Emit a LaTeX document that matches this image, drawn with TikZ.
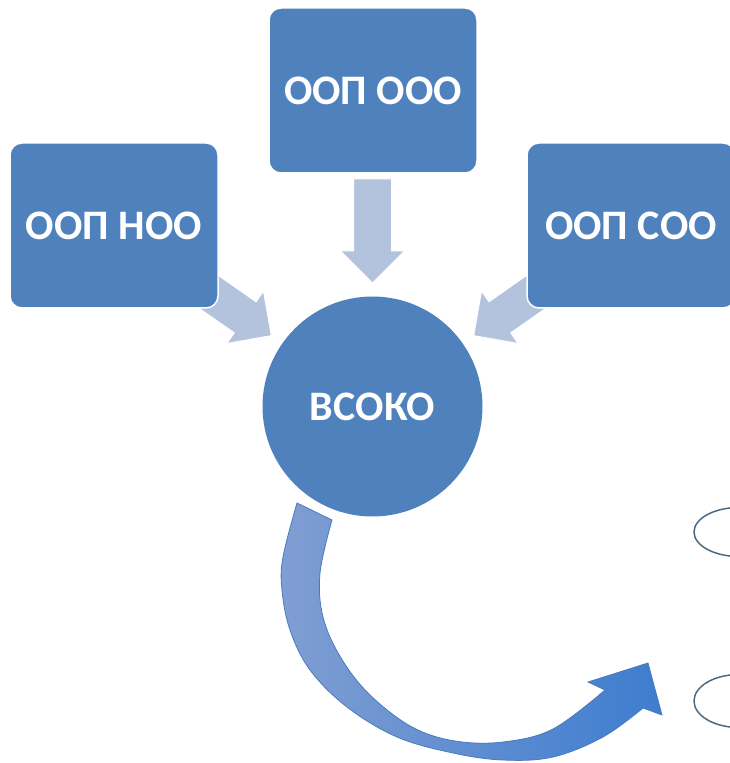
\documentclass[tikz,border=0pt]{standalone}
\usepackage{fontspec}
\setmainfont{Carlito}
\usepackage{tikz}
\usetikzlibrary{calc}
\definecolor{boxblue}{RGB}{79,129,189}
\definecolor{arrowgrey}{RGB}{179,195,222}
\definecolor{curvelight}{RGB}{128,158,210}
\definecolor{curvedark}{RGB}{62,125,207}
\definecolor{curveline}{RGB}{74,122,190}
\definecolor{ovalline}{RGB}{74,106,132}

\begin{document}
\begin{tikzpicture}[x=1pt, y=1pt,
 every node/.style = {text=white, font=\fontsize{42}{50}\selectfont\bfseries},
 oopbox/.style = {draw=white, line width=1.5pt, fill=boxblue, rounded corners=12pt, minimum width=208pt, minimum height=165pt},
 fatarrow/.style = {fill=arrowgrey, draw=white, line width=1pt}]
\useasboundingbox (0,0) rectangle (730,763);
\node[circle, fill=boxblue, minimum size=220pt, inner sep=0pt] (vsoko) at (372.5,356.5) {ВСОКО};
% arrows into the circle
\foreach \a in {90,145,35}
 \draw[fatarrow, shift={(vsoko.center)}, rotate=\a] (123.5,0) -- (155.5,32) -- (155.5,19) -- (227.5,19) -- (227.5,-19) -- (155.5,-19) -- (155.5,-32) -- cycle;
\node[oopbox] (ooo) at (373,672.5) {ООП ООО};
\node[oopbox] (noo) at (114,537.5) {ООП НОО};
\node[oopbox] (soo) at (631,537.5) {ООП СОО};
% curved arrow
\draw[draw=curveline, line width=0.8pt, left color=curvelight, right color=curvedark]
 plot[smooth, tension=0.6] coordinates {(297,260) (283,206) (282,173) (290,133) (310,93) (347,56) (397,26) (453,10) (503,3) (553,6) (603,26) (643,55)}
 -- (662,48) coordinate (wingr) -- (648,100) coordinate (tip) -- (588,81) coordinate (wingl)
 -- plot[smooth, tension=0.6] coordinates {(605,73) (553,34) (503,21) (455,22) (412,36) (370,68) (341,105) (323,146) (320,190) (332,243)} -- cycle;
\draw[ovalline, line width=1.5pt] (739,231) ellipse [x radius=45pt, y radius=24.5pt];
\draw[ovalline, line width=1.5pt] (739,62) ellipse [x radius=45pt, y radius=26.5pt];
\end{tikzpicture}
\end{document}
